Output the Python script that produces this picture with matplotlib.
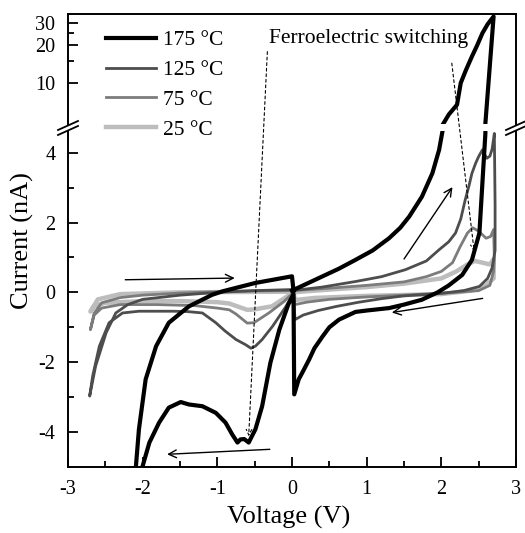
import matplotlib
matplotlib.use("Agg")
import matplotlib.pyplot as plt
from matplotlib.lines import Line2D
from matplotlib.patches import ConnectionPatch
import numpy as np

plt.rcParams['font.family'] = ['Liberation Serif', 'DejaVu Serif']
plt.rcParams['axes.unicode_minus'] = False
plt.rcParams['mathtext.fontset'] = 'stix'

# ---------------- data ----------------
labels = ["175 \u00b0C", "125 \u00b0C", "75 \u00b0C", "25 \u00b0C"]
colors = ["#000000", "#4d4d4d", "#7c7c7c", "#bdbdbd"]
widths = [3.0, 2.0, 2.0, 3.2]

v175 = [0.0, 0.2, 0.41, 0.63, 0.85, 1.08, 1.3, 1.45, 1.57, 1.74, 1.88, 1.97, 2.01, 2.1, 2.21, 2.26, 2.33, 2.41, 2.48, 2.55, 2.62, 2.70,
        2.59, 2.59, 2.55, 2.51, 2.41, 2.28, 2.1, 1.95, 1.74, 1.5, 1.3, 1.0, 0.85, 0.63, 0.5, 0.41, 0.3, 0.23, 0.15, 0.09, 0.03,
        0.02, -0.05, -0.17, -0.29, -0.4, -0.49, -0.58, -0.64, -0.69, -0.73, -0.8, -0.89, -1.02, -1.2, -1.38, -1.49, -1.65, -1.78, -1.91, -2.0, -2.06, -2.1,
        -2.14, -2.09, -2.05, -1.96, -1.82, -1.65, -1.38, -1.07, -0.93, -0.49, 0.0, 0.02]
i175 = [0.05, 0.25, 0.46, 0.68, 0.93, 1.2, 1.55, 1.85, 2.17, 2.74, 3.41, 4.08, 4.55, 5.6, 6.7, 10.0, 12.7, 16.3, 20.0, 25.0, 29.5, 34.0,
        4.76, 4.55, 3.13, 1.7, 0.93, 0.5, 0.2, 0.0, -0.21, -0.35, -0.45, -0.52, -0.56, -0.78, -1.0, -1.26, -1.6, -1.92, -2.25, -2.49, -2.92,
        -0.05, -0.35, -1.07, -2.02, -3.26, -3.92, -4.3, -4.2, -4.21, -4.3, -4.07, -3.73, -3.45, -3.26, -3.21, -3.14, -3.3, -3.73, -4.3, -4.97, -5.6, -6.5,
        -6.5, -4.97, -3.92, -2.49, -1.54, -0.87, -0.4, -0.07, 0.03, 0.27, 0.46, 0.05]

v125 = [0.0, 0.4, 0.85, 1.2, 1.52, 1.8, 1.97, 2.1, 2.19, 2.26, 2.32, 2.37, 2.41, 2.46, 2.5, 2.55, 2.58, 2.61, 2.65, 2.68, 2.71,
        2.72, 2.72, 2.68, 2.62, 2.51, 2.3, 2.0, 1.5, 1.2, 0.9, 0.6, 0.35, 0.15, 0.04,
        0.02, -0.08, -0.26, -0.4, -0.49, -0.55, -0.62, -0.75, -0.9, -1.02, -1.2, -1.4, -1.6, -2.05, -2.27, -2.45, -2.58, -2.67, -2.71,
        -2.63, -2.49, -2.36, -2.2, -2.0, -1.5, -1.0, -0.5, 0.0]
i125 = [0.05, 0.15, 0.31, 0.45, 0.65, 0.9, 1.22, 1.45, 1.7, 2.1, 2.65, 3.05, 3.41, 3.7, 3.89, 4.08, 3.95, 3.84, 3.9, 4.1, 4.55,
        2.5, 1.2, 0.7, 0.4, 0.17, 0.05, -0.03, -0.1, -0.18, -0.28, -0.4, -0.52, -0.65, -0.78,
        -0.02, -0.4, -0.97, -1.35, -1.54, -1.6, -1.5, -1.35, -1.1, -0.87, -0.59, -0.55, -0.54, -0.54, -0.59, -0.87, -1.54, -2.4, -2.97,
        -2.11, -1.16, -0.59, -0.35, -0.2, -0.08, 0.0, 0.05, 0.08]

v75 = [0.0, 0.5, 1.0, 1.5, 1.8, 2.0, 2.15, 2.25, 2.35, 2.42, 2.5, 2.6, 2.66, 2.7,
       2.71, 2.7, 2.65, 2.5, 2.2, 1.5, 1.0, 0.5, 0.2, 0.04,
       0.02, -0.1, -0.31, -0.51, -0.6, -0.75, -0.84, -1.0, -1.3, -1.8, -2.3, -2.55, -2.65, -2.7,
       -2.65, -2.55, -2.3, -2.0, -1.5, -1.0, -0.5, 0.0]
i75 = [0.05, 0.12, 0.2, 0.3, 0.45, 0.6, 0.85, 1.3, 1.7, 1.85, 1.75, 1.55, 1.6, 1.8,
       1.0, 0.6, 0.2, 0.05, 0.0, -0.08, -0.13, -0.2, -0.28, -0.35,
       0.0, -0.25, -0.59, -0.87, -0.88, -0.62, -0.5, -0.45, -0.38, -0.35, -0.35, -0.45, -0.65, -1.07,
       -0.6, -0.3, -0.15, -0.08, -0.02, 0.02, 0.04, 0.05]

v25 = [0.0, 0.5, 1.0, 1.5, 2.0, 2.2, 2.35, 2.45, 2.55, 2.65, 2.7,
       2.7, 2.6, 2.4, 2.0, 1.0, 0.3, 0.04,
       0.02, -0.27, -0.51, -0.6, -0.84, -1.0, -1.5, -2.0, -2.5, -2.65, -2.7,
       -2.6, -2.3, -1.5, 0.0]
i25 = [0.0, 0.08, 0.15, 0.25, 0.4, 0.6, 0.8, 0.9, 0.85, 0.8, 0.95,
       0.4, 0.2, 0.05, -0.05, -0.1, -0.16, -0.22,
       0.0, -0.4, -0.49, -0.5, -0.32, -0.28, -0.25, -0.25, -0.3, -0.4, -0.55,
       -0.2, -0.05, 0.0, 0.02]

series_v = [v175, v125, v75, v25]
series_i = [i175, i125, i75, i25]

W, H = 525, 533
fig = plt.figure(figsize=(W / 100, H / 100), dpi=100)

def fx(px):
    return px / W

def fy(py):
    return 1 - py / H

ax = fig.add_axes([fx(68), fy(467), fx(516) - fx(68), fy(131) - fy(467)])
axt = fig.add_axes([fx(68), fy(124), fx(516) - fx(68), fy(14) - fy(124)])

handles = []
for k in [3, 2, 1, 0]:
    l, = ax.plot(series_v[k], series_i[k], color=colors[k], lw=widths[k], solid_joinstyle='round', zorder=3 + (3 - k))
    axt.plot(series_v[k], series_i[k], color=colors[k], lw=widths[k], solid_joinstyle='round', zorder=3 + (3 - k))
    handles.append((k, l))
handles = [h for _, h in sorted(handles)]

ax.set_xlim(-3, 3)
ax.set_ylim(-5, 4.62)
axt.set_yscale('log', nonpositive='mask')
axt.set_xlim(-3, 3)
axt.set_ylim(4.7, 35.6)

ax.set_xticks([-3, -2, -1, 0, 1, 2, 3])
ax.set_xticklabels(["-3", "-2", "-1", "0", "1", "2", "3"])
ax.set_xticks(np.arange(-2.5, 3, 1.0), minor=True)
ax.set_yticks([-4, -2, 0, 2, 4])
ax.set_yticklabels(["-4", "-2", "0", "2", "4"])
ax.set_yticks([-3, -1, 1, 3], minor=True)
ax.tick_params(which='both', direction='in', top=False, right=False, labelsize=14.5, width=1.3)
ax.tick_params(which='major', length=7)
ax.tick_params(which='minor', length=4)
ax.tick_params(axis='x', pad=9)
ax.tick_params(axis='y', pad=9)
for s in ['left', 'bottom', 'right']:
    ax.spines[s].set_linewidth(1.4)
ax.spines['top'].set_visible(False)

axt.set_yticks([10, 20, 30])
axt.set_yticklabels(["10", "20", "30"])
axt.set_yticks([15, 25], minor=True)
axt.yaxis.set_minor_formatter(matplotlib.ticker.NullFormatter())
axt.set_xticks([])
axt.tick_params(which='both', direction='in', top=False, right=False, bottom=False, labelsize=14.5, width=1.3, pad=9)
axt.tick_params(which='major', length=7)
axt.tick_params(which='minor', length=4)
for s in ['left', 'top', 'right']:
    axt.spines[s].set_linewidth(1.4)
axt.spines['bottom'].set_visible(False)

# break marks
for xc in [68, 516]:
    for dy in [0, 5]:
        fig.add_artist(Line2D([fx(xc - 10), fx(xc + 10)], [fy(135 - dy), fy(126 - dy)], color='black', lw=1.3))

# labels
fig.text(fx(289), fy(517), "Voltage (V)", ha='center', va='center', fontsize=19)
fig.text(fx(22), fy(241), "Current (nA)", ha='center', va='center', rotation=90, fontsize=19)
fig.text(fx(269), fy(43), "Ferroelectric switching", ha='left', va='baseline', fontsize=15.5)

# dashed annotation arrows
for start, end in [((-0.33, 17.8), (-0.58, -4.12)), ((2.14, 14.4), (2.44, 1.17))]:
    cp = ConnectionPatch(xyA=start, coordsA=axt.transData, xyB=end, coordsB=ax.transData,
                         arrowstyle='->', linestyle=(0, (2.5, 2.5)), lw=0.8, color='black',
                         mutation_scale=10, zorder=10)
    fig.add_artist(cp)

# solid direction arrows
arrows = [((-2.27, 0.36), (-0.73, 0.41)), ((1.48, 0.89), (2.17, 3.08)),
          ((2.59, -0.16), (1.3, -0.59)), ((-0.26, -4.49), (-1.71, -4.64))]
for a, b in arrows:
    ax.annotate("", xy=b, xytext=a, arrowprops=dict(arrowstyle='->', lw=1.0, color='black', mutation_scale=14), zorder=10)

leg = fig.legend(handles, labels, loc='upper left', bbox_to_anchor=(fx(106), fy(30)), frameon=False,
                 fontsize=15.5, handlelength=2.3, handletextpad=0.35, labelspacing=0.46,
                 borderpad=0, borderaxespad=0)

fig.savefig("out.png", dpi=100)
